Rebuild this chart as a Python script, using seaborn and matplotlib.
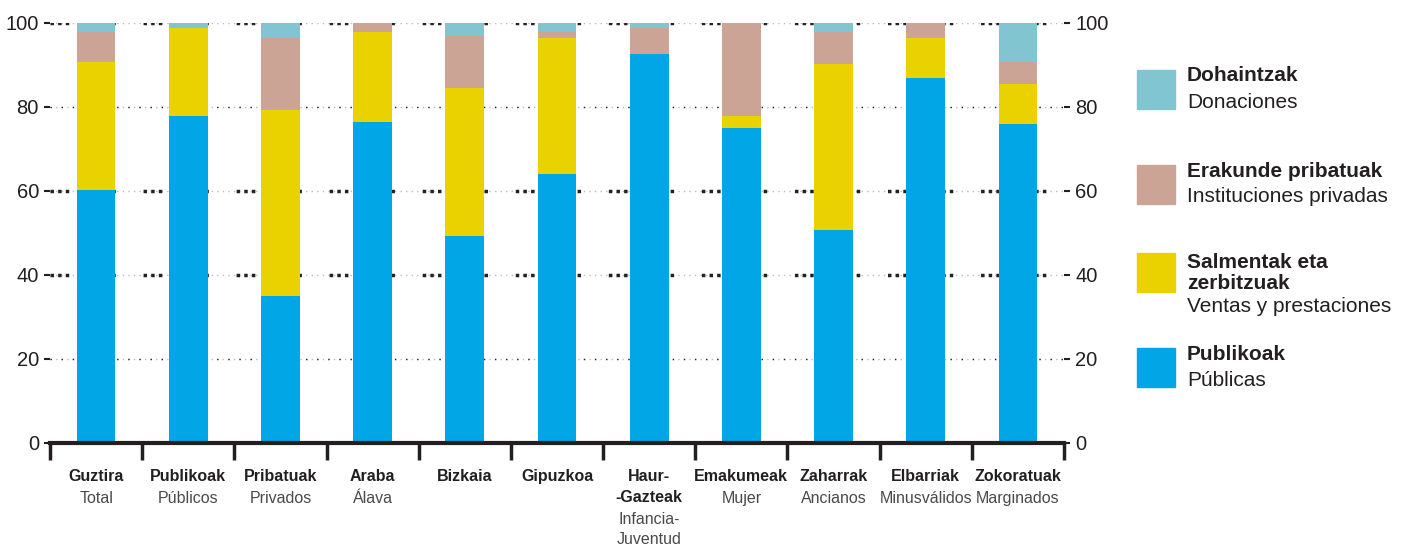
import pandas as pd
import seaborn as sns
import matplotlib.pyplot as plt
from matplotlib.patches import Rectangle

# categorias (euskara / castellano)
nombres_eu = ['Guztira', 'Publikoak', 'Pribatuak', 'Araba', 'Bizkaia', 'Gipuzkoa',
              'Haur-\n-Gazteak', 'Emakumeak', 'Zaharrak', 'Elbarriak', 'Zokoratuak']
nombres_es = ['Total', 'Públicos', 'Privados', 'Álava', '', '',
              'Infancia-\nJuventud', 'Mujer', 'Ancianos', 'Minusválidos', 'Marginados']

# porcentajes por fuente de financiación
publicas = [60.2, 77.9, 35.0, 76.4, 49.3, 64.0, 92.6, 75.0, 50.7, 86.9, 76.0]
ventas = [30.5, 20.9, 44.3, 21.5, 35.2, 32.4, 0.0, 2.9, 39.5, 9.5, 9.5]
privadas = [7.2, 0.0, 17.1, 2.1, 12.4, 1.5, 6.2, 22.1, 7.7, 3.6, 5.2]
donaciones = [2.1, 1.2, 3.6, 0.0, 3.1, 2.1, 1.2, 0.0, 2.1, 0.0, 9.3]

series = [('Publikoak', 'Públicas', publicas, '#00A6E6'),
          ('Salmentak eta\nzerbitzuak', 'Ventas y prestaciones', ventas, '#E9D200'),
          ('Erakunde pribatuak', 'Instituciones privadas', privadas, '#CBA496'),
          ('Dohaintzak', 'Donaciones', donaciones, '#80C5D0')]

df = pd.DataFrame({'cat': nombres_eu})
acum = [0.0] * len(nombres_eu)
for i, (_, _, vals, _) in enumerate(series):
    acum = [a + v for a, v in zip(acum, vals)]
    df['c%d' % i] = acum

sns.set_style('white')
plt.rcParams['font.family'] = ['Liberation Sans', 'DejaVu Sans']

fig = plt.figure(figsize=(14.09, 5.46), dpi=100)
ax = fig.add_axes([50 / 1409, 1 - 443 / 546, 1014 / 1409, 420 / 546])

# barras apiladas: de la capa superior hacia abajo
for i in range(len(series) - 1, -1, -1):
    sns.barplot(x='cat', y='c%d' % i, data=df, color=series[i][3],
                width=0.42, saturation=1, linewidth=0, edgecolor='none',
                ax=ax, zorder=3)

ax.set_xlim(-0.5, len(nombres_eu) - 0.5)
ax.set_ylim(0, 100)

# lineas de referencia punteadas
for v in [20, 40, 60, 80, 100]:
    ax.axhline(v, color='#bbbbbb', lw=1, ls=(0, (1, 3)), zorder=1)
    if v in (40, 60, 100):
        ax.axhline(v, color='#222222', lw=2.5, ls=(0, (1, 1.2, 1, 1.2, 1, 8)), zorder=2)
    else:
        ax.axhline(v, color='#222222', lw=1, ls=(0, (1, 7)), zorder=2)

for s in ['top', 'right', 'left']:
    ax.spines[s].set_visible(False)
ax.spines['bottom'].set_linewidth(3)
ax.spines['bottom'].set_color('#231f20')
ax.spines['bottom'].set_zorder(5)

ax.set_xlabel('')
ax.set_ylabel('')
ax.set_xticks([i - 0.5 for i in range(len(nombres_eu) + 1)])
ax.set_xticklabels([])
ax.tick_params(axis='x', direction='out', length=12, width=2.5, color='#231f20', bottom=True)
ax.set_yticks([0, 20, 40, 60, 80, 100])
ax.tick_params(axis='y', labelsize=14.5, labelcolor='#231f20', length=4, width=1.5,
               color='#231f20', left=True, right=True, labelright=True, pad=4)

# etiquetas de categoria en dos idiomas
for i, (eu, es) in enumerate(zip(nombres_eu, nombres_es)):
    ax.text(i, -0.063, eu, transform=ax.get_xaxis_transform(), ha='center', va='top',
            fontsize=11.5, fontweight='bold', color='#231f20', linespacing=1.45,
            family=['Liberation Sans Narrow', 'Liberation Sans'])
    n = eu.count('\n') + 1
    ax.text(i, -0.063 - 0.051 * n, es, transform=ax.get_xaxis_transform(), ha='center',
            va='top', fontsize=11.5, color='#4a4a4a', linespacing=1.4,
            family=['Liberation Sans Narrow', 'Liberation Sans'])

# leyenda manual: (cuadro arriba, texto euskara, texto castellano) en pixeles
leyenda_pos = [(70, 77, 102), (165, 173, 196), (253, 264, 306), (348, 356, 380)]
for (eu, es, _, col), (yc, yb, yr) in zip(series[::-1], leyenda_pos):
    fig.patches.append(Rectangle((1137 / 1409, 1 - (yc + 39) / 546), 38 / 1409, 39 / 546,
                                 transform=fig.transFigure, color=col))
    fig.text(1187 / 1409, 1 - (yb - 11) / 546, eu, fontsize=15, fontweight='bold',
             color='#231f20', va='top', linespacing=1.12)
    fig.text(1187 / 1409, 1 - yr / 546, es, fontsize=15,
             color='#231f20', va='center')

fig.savefig('out.png', dpi=100)
